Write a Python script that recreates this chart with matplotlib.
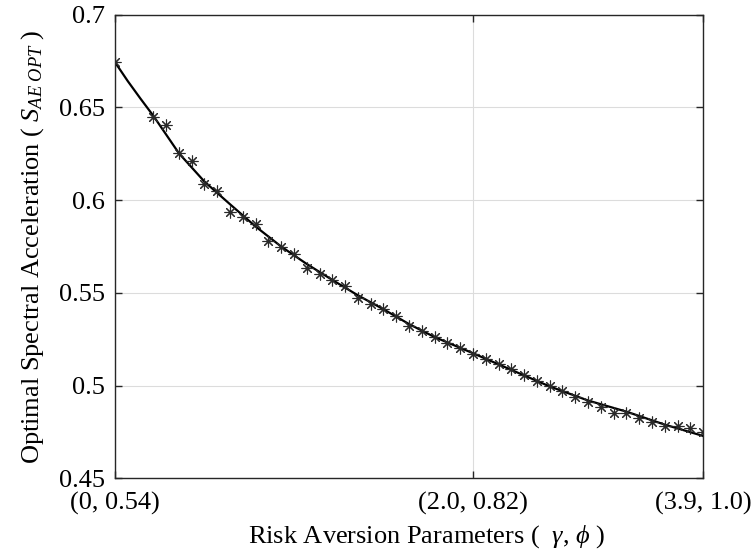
import numpy as np
import matplotlib.pyplot as plt

plt.rcParams['font.family'] = 'Liberation Serif'
plt.rcParams['mathtext.fontset'] = 'custom'
plt.rcParams['mathtext.rm'] = 'Liberation Serif'
plt.rcParams['mathtext.it'] = 'Liberation Serif:italic'

# Case index along the (gamma, phi) sweep and computed optimum
case_idx = np.r_[0, 3:47]
sa_opt = [0.6743, 0.6451, 0.6406, 0.6254, 0.6212, 0.6086, 0.6050, 0.5939,
          0.5907, 0.5872, 0.5780, 0.5746, 0.5712, 0.5636, 0.5604, 0.5570,
          0.5539, 0.5471, 0.5442, 0.5414, 0.5378, 0.5322, 0.5293, 0.5261,
          0.5230, 0.5202, 0.5171, 0.5143, 0.5116, 0.5088, 0.5058, 0.5027,
          0.4998, 0.4971, 0.4941, 0.4912, 0.4884, 0.4855, 0.4851, 0.4824,
          0.4806, 0.4784, 0.4785, 0.4770, 0.4749]

# Fitted curve
fit_idx = [0, 1, 2, 3, 5, 7, 9, 11, 13, 15, 17, 19, 21, 23, 25, 28, 31, 34,
           37, 40, 43, 46]
fit_val = [0.6744, 0.6642, 0.6547, 0.6455, 0.6253, 0.6100, 0.5978, 0.5858,
           0.5750, 0.5656, 0.5570, 0.5487, 0.5412, 0.5332, 0.5262, 0.5175,
           0.5085, 0.4996, 0.4920, 0.4860, 0.4790, 0.4729]

tick_pos = [0, 28, 46]
tick_lab = ['(0, 0.54)', '(2.0, 0.82)', '(3.9, 1.0)']

fig = plt.figure(figsize=(7.54, 5.55), dpi=100)
ax = fig.add_axes([0.1525, 0.138, 0.78, 0.8355])

ax.plot(fit_idx, fit_val, color='k', lw=1.6, zorder=3)
ax.plot(case_idx, sa_opt, ls='none', marker=(8, 2, 0), ms=8.5, mew=0.8,
        color='#2a2a2a', zorder=4)

ax.set_xlim(0, 46)
ax.set_ylim(0.45, 0.7)
ax.set_xticks(tick_pos)
ax.set_xticklabels(tick_lab)
ax.set_yticks([0.45, 0.5, 0.55, 0.6, 0.65, 0.7])
ax.set_yticklabels(['0.45', '0.5', '0.55', '0.6', '0.65', '0.7'])
ax.tick_params(direction='in', top=True, right=True, length=5, width=1,
               colors='#262626', labelcolor='k', labelsize=19, pad=7)
ax.tick_params(axis='x', pad=10)
ax.grid(True, color='#dcdcdc', lw=0.8)
for s in ax.spines.values():
    s.set_color('#262626')
    s.set_linewidth(1.0)

ax.set_xlabel(r'Risk Aversion Parameters (  $\gamma$, $\phi$ )', fontsize=19)
ax.set_ylabel(r'Optimal Spectral Acceleration ( $S_{AE\ OPT}$ )', fontsize=19)
ax.xaxis.set_label_coords(0.53, -0.097)
ax.yaxis.set_label_coords(-0.117, 0.5)

fig.savefig('out.png', dpi=100)
